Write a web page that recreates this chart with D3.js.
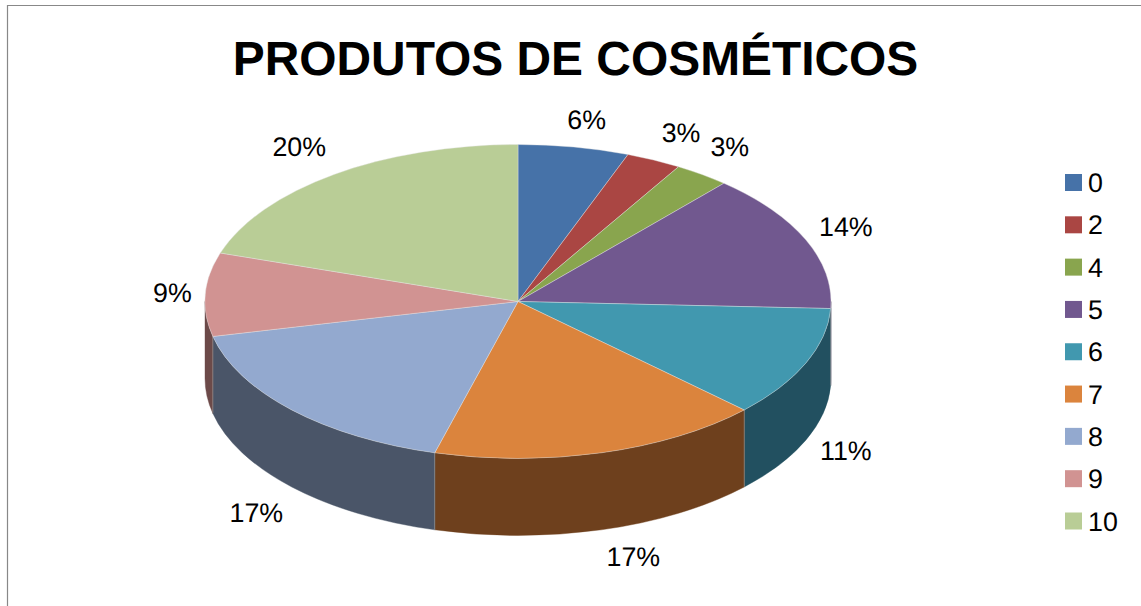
<!DOCTYPE html>
<html><head><meta charset="utf-8">
<script src="https://cdn.jsdelivr.net/npm/d3@7/dist/d3.min.js"></script>
<style>html,body{margin:0;padding:0;background:#fff}svg{display:block}text{font-family:"Liberation Sans",Arial,sans-serif;fill:#000;text-rendering:geometricPrecision}</style>
</head><body><svg id="c" width="1141" height="606"></svg>
<script>
const title = "PRODUTOS DE COSMÉTICOS";
const categories = ["0","2","4","5","6","7","8","9","10"];
const counts = [2,1,1,5,4,6,6,3,7];
const colors = ["#4672a8","#aa4643","#89a54e","#71588f","#4198af","#db843d","#93a9cf","#d19392","#b9cd96"];
const sideColors = ["#2a4465","#662a28","#52632f","#443556","#225060","#6e401d","#4a5568","#6c4a49","#6f7b5a"];

const W=1141,H=606, cx=518, cy=301.5, rx=313, ry=157, depth=77;
const svg=d3.select("#c");
svg.append("path").attr("d",`M7.5,${H}V5.5H${W}`).attr("fill","none").attr("stroke","#888").attr("stroke-width",1.2);
svg.append("text").attr("x",575.5).attr("y",75).attr("text-anchor","middle").attr("font-weight","bold").attr("font-size",47.9).text(title);

const total=d3.sum(counts);
const fmt=d3.format(".0%");
const arcs=d3.pie().sort(null)(counts);
const px=a=>cx+rx*Math.sin(a), py=a=>cy-ry*Math.cos(a);
const H1=Math.PI/2, H2=3*Math.PI/2;
const sideG=svg.append("g");
arcs.forEach((d,i)=>{
  const a0=Math.max(d.startAngle,H1), a1=Math.min(d.endAngle,H2);
  if(a1<=a0) return;
  const large=a1-a0>Math.PI?1:0;
  sideG.append("path")
    .attr("d",`M${px(a0)},${py(a0)}A${rx},${ry} 0 ${large} 1 ${px(a1)},${py(a1)}V${py(a1)+depth}A${rx},${ry} 0 ${large} 0 ${px(a0)},${py(a0)+depth}Z`)
    .attr("fill",sideColors[i]).attr("stroke",sideColors[i]).attr("stroke-width",.4);
  if(d.startAngle>=H1) sideG.append("line").attr("x1",px(a0)).attr("x2",px(a0)).attr("y1",py(a0)).attr("y2",py(a0)+depth).attr("stroke","#9a9a9a").attr("stroke-width",.6);
});
const topG=svg.append("g");
arcs.forEach((d,i)=>{
  const large=d.endAngle-d.startAngle>Math.PI?1:0;
  topG.append("path")
    .attr("d",`M${cx},${cy}L${px(d.startAngle)},${py(d.startAngle)}A${rx},${ry} 0 ${large} 1 ${px(d.endAngle)},${py(d.endAngle)}Z`)
    .attr("fill",colors[i]).attr("stroke","#e6e6e6").attr("stroke-width",.4).attr("stroke-linejoin","round");
});
// data labels: placed around a larger ellipse, with small hand offsets as in the original
const lrx=362, lry=187;
const nudgeX=[4,6,-1,-5,-5,19,0,16,-6], nudgeY=[2,0,-3,-1,-1,-2,5,0,-3];
svg.append("g").selectAll("text").data(arcs).join("text")
  .attr("text-anchor","middle").attr("font-size",26.8)
  .attr("x",(d,i)=>cx+lrx*Math.sin((d.startAngle+d.endAngle)/2)+nudgeX[i])
  .attr("y",(d,i)=>{const m=(d.startAngle+d.endAngle)/2;const c=Math.cos(m);return cy-lry*c+(c<0?depth:0)+9+nudgeY[i];})
  .text(d=>fmt(d.value/total));
const ly=d3.scalePoint().domain(categories).range([182.5,521]);
const lg=svg.append("g").selectAll("g").data(categories).join("g").attr("transform",d=>`translate(0,${ly(d)})`);
lg.append("rect").attr("x",1065).attr("y",-8.5).attr("width",17).attr("height",17).attr("fill",(d,i)=>colors[i]);
lg.append("text").attr("x",1088).attr("y",9.5).attr("font-size",26.8).text(d=>d);
</script></body></html>
